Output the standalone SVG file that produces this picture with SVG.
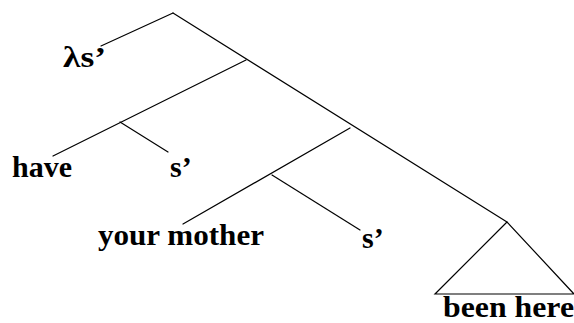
<svg xmlns="http://www.w3.org/2000/svg" width="574" height="323" viewBox="0 0 574 323">
<style>
.e{stroke:#000;stroke-width:1.2;fill:none;stroke-linecap:round}
.t{font-family:"Liberation Serif","Times New Roman",serif;font-weight:bold;font-size:30px;fill:#000}
</style>
<rect width="574" height="323" fill="#fff"/>
<g id="edges">
<line class="e" x1="173" y1="13" x2="101" y2="46"/>
<line class="e" x1="173" y1="13" x2="507" y2="222"/>
<line class="e" x1="246" y1="60" x2="53" y2="156"/>
<line class="e" x1="120" y1="122" x2="168" y2="152"/>
<line class="e" x1="350" y1="128" x2="183" y2="224"/>
<line class="e" x1="272" y1="175" x2="360" y2="230"/>
</g>
<g id="n-lambda"><text class="t" x="63" y="67" textLength="43" lengthAdjust="spacingAndGlyphs">λs’</text></g>
<g id="n-have"><text class="t" x="12" y="177" textLength="60" lengthAdjust="spacingAndGlyphs">have</text></g>
<g id="n-s1"><text class="t" x="170" y="177">s’</text></g>
<g id="n-mother"><text class="t" x="98" y="245" textLength="166" lengthAdjust="spacingAndGlyphs">your mother</text></g>
<g id="n-s2"><text class="t" x="362" y="248">s’</text></g>
<g id="n-been">
<polygon class="e" points="507,222 435,294 574,294"/>
<text class="t" x="443" y="317" textLength="131" lengthAdjust="spacingAndGlyphs">been here</text>
</g>
</svg>
